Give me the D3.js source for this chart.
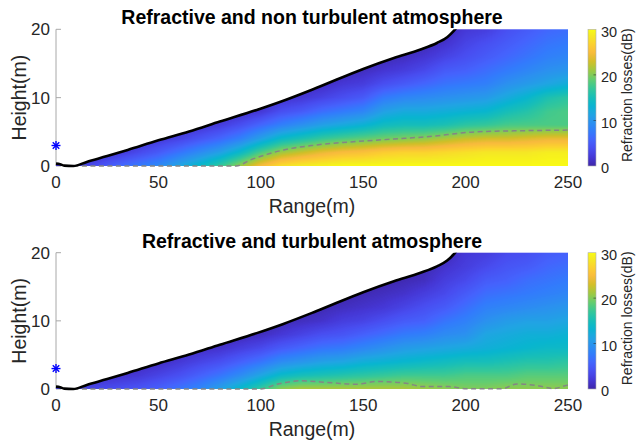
<!DOCTYPE html>
<html><head><meta charset="utf-8">
<script src="https://cdn.jsdelivr.net/npm/d3@7"></script>
<style>
body{margin:0;background:#fff;}
svg{display:block;font-family:"Liberation Sans",Arial,Helvetica,sans-serif;}
</style></head><body>
<svg id="chart" width="636" height="444"></svg>
<script>
// ---------------- data ----------------
const ranges  = [0,10,20,30,40,50,60,70,80,90,100,110,120,130,140,150,160,170,180,190,200,210,220,230,240,250];
const heights = [0,2,4,6,8,10,12,14,16,18,20];

// refraction losses (dB), one row per range, columns = heights
const lossNonTurbulent = [
  [2,0,0,0,0,0,0,0,0,0,0],
  [3,0,0,0,0,0,0,0,0,0,0],
  [4,1,0,0,0,0,0,0,0,0,0],
  [6,2,0,0,0,0,0,0,0,0,0],
  [7.5,3.5,1,0,0,0,0,0,0,0,0],
  [9,5,2,0,0,0,0,0,0,0,0],
  [11.5,7,3,1,0,0,0,0,0,0,0],
  [14,9,4.5,1.5,0,0,0,0,0,0,0],
  [17,11,6,2.5,0.5,0,0,0,0,0,0],
  [21,14,8,4,1,0,0,0,0,0,0],
  [25,18,11,6,2,0.5,0,0,0,0,0],
  [28,21,14,8,4,1.5,0,0,0,0,0],
  [29,22.5,15.5,9.5,5,2,0.5,0,0,0,0],
  [29.5,24,17,11,6.5,3,1,0,0,0,0],
  [30,25,18,12,7.5,4,2,0.5,0,0,0],
  [30,25.5,18.8,13,8.5,5,2.5,1,0,0,0],
  [30,26.5,19.5,14.5,11,7.5,4,1.8,0.5,0,0],
  [30,27,20,15,12,8.5,5,2.5,1,0,0],
  [30,27,20.5,15,12,9,6,3.5,1.8,0.5,0],
  [30,27.5,21.5,15.5,12.5,9.5,7,5,3,1.5,0.5],
  [30,28,22.5,16.5,13,10,7.5,5.5,4,3,2],
  [30,28.5,23,17,13.5,10.5,8,6.5,5,4,2.5],
  [30,28.5,23,17.8,15,12,9.5,7.5,6,5,4],
  [30,28.5,23.5,18,16,13.5,10.5,8.5,7,6,5],
  [30,29,24,18,17.5,15.5,11.5,9.5,8,7,6],
  [30,29,24,18,18,16.5,12.5,10,8.5,7.5,6.5]
];
const lossTurbulent = [
  [3,0,0,0,0,0,0,0,0,0,0],
  [3,0,0,0,0,0,0,0,0,0,0],
  [3.5,1,0,0,0,0,0,0,0,0,0],
  [4,1.5,0,0,0,0,0,0,0,0,0],
  [4.5,2,0.5,0,0,0,0,0,0,0,0],
  [5.5,3,1,0,0,0,0,0,0,0,0],
  [7,4,2,0.5,0,0,0,0,0,0,0],
  [8.5,5.5,3,1,0,0,0,0,0,0,0],
  [11,7,4,1.5,0,0,0,0,0,0,0],
  [14,9,5.5,2.5,0.5,0,0,0,0,0,0],
  [17,11.5,7,3.5,1,0,0,0,0,0,0],
  [20.5,14,9,5,2,0.5,0,0,0,0,0],
  [21.5,15,10,6,3,1,0,0,0,0,0],
  [21.5,15.5,11,7,4,1.5,0.5,0,0,0,0],
  [21.5,16,11.5,7.5,4.5,2.5,1,0,0,0,0],
  [21.5,16.5,12.5,8.5,5.5,3,1.5,0.5,0,0,0],
  [21.5,17,13,9.5,6.5,4,2,1,0,0,0],
  [21.5,17.5,13.5,10.5,7.5,5,3,1.5,0.5,0,0],
  [21,17.5,14,11,8,5.5,4,2.5,1,0.5,0],
  [20.5,17.5,14.5,11.5,9,7,5,3.5,2.5,1.5,0.5],
  [20,18,15,12,9.5,8,6.5,5,3.5,2.5,2],
  [20,18,15,12.5,11.5,9.5,8,6.5,5,3.5,2.5],
  [20.5,18,15.5,13,12,10.5,8.5,7,5.5,4.5,3.5],
  [20.5,18.5,16,13.5,12.5,11,9,7.5,6.5,5,4],
  [20.5,18.5,16,14,12.5,11,9.5,8,7,6,5],
  [20.5,18.5,16.5,14,13,11.5,10,8.5,7.5,6.5,5.5]
];

// shadow-zone boundary (black line)
const boundaryRange  = [0,2,4,8.5,15,25,35,50,65,80,98,111,127,150,165,178,186,191,194,196.5,198];
const boundaryHeight = [0.35,0.25,0.05,0,0.6,1.45,2.35,3.75,5.05,6.5,8.2,9.55,11.4,14.2,15.8,17.05,18.0,18.85,19.7,20.6,21.2];

// 20 dB contour (dashed)
const contourNonTurbRange  = [8.5,88,95,103,111,127,150,165,181,205,225,250];
const contourNonTurbHeight = [0,0,0.9,1.7,2.34,3.07,3.65,3.95,4.28,5.0,5.15,5.25];
const contourTurbRange  = [8.5,99.6,108,119,135,146.8,156.6,171,179,192,200.5,218,225,236,243,247.6,250];
const contourTurbHeight = [0,0,0.7,1.2,0.9,0.7,1.1,0.85,0.35,0.35,0.05,0.05,0.75,0.45,0.05,0.4,0.6];

const sourceRange = 0, sourceHeight = 3;
const xTicks = [0,50,100,150,200,250];
const yTicks = [0,10,20];
const cbTicks = [0,10,20,30];
const titles = ["Refractive and non turbulent atmosphere","Refractive and turbulent atmosphere"];
const xLabel = "Range(m)", yLabel = "Height(m)", cbLabel = "Refraction losses(dB)";

// parula colormap stops
const parulaPos = [0,4,8,12,16,20,24,28,32,36,40,44,48,52,56,60,63];
const parulaCol = ["#3e26a8","#4537d5","#484df0","#4563fd","#327cfc","#2b91ef","#20a5e3","#08b5d0",
                   "#19bfb6","#37c897","#64cd6f","#9dc943","#d1bf27","#f8ba3d","#fccf30","#f5e924","#f9fb15"];

// ---------------- drawing ----------------
const svg = d3.select("#chart");
const xLeft = 56, xRight = 568;
const panelsY = [[29.3,166],[252.7,389]];
const cbX = 588, cbW = 8;
const tickColor = "#262626";

const color = d3.scaleLinear()
  .domain(parulaPos.map(p => p/63*30))
  .range(parulaCol)
  .interpolate(d3.interpolateRgb)
  .clamp(true);
const lut = d3.range(301).map(i => d3.rgb(color(i/10)));

const defs = svg.append("defs");

function sample(grid, x, h) {
  let i = d3.bisectRight(ranges, x) - 1;
  i = Math.max(0, Math.min(ranges.length - 2, i));
  let j = d3.bisectRight(heights, h) - 1;
  j = Math.max(0, Math.min(heights.length - 2, j));
  let tx = (x - ranges[i]) / (ranges[i+1] - ranges[i]);
  let ty = (h - heights[j]) / (heights[j+1] - heights[j]);
  tx = Math.max(0, Math.min(1, tx)); ty = Math.max(0, Math.min(1, ty));
  return (1-tx)*(1-ty)*grid[i][j] + tx*(1-ty)*grid[i+1][j] + (1-tx)*ty*grid[i][j+1] + tx*ty*grid[i+1][j+1];
}

const grids = [lossNonTurbulent, lossTurbulent];
const contours = [[contourNonTurbRange, contourNonTurbHeight],[contourTurbRange, contourTurbHeight]];

panelsY.forEach(([yTop, yBot], k) => {
  const x = d3.scaleLinear().domain([0,250]).range([xLeft, xRight]);
  const y = d3.scaleLinear().domain([0,20]).range([yBot, yTop]);
  const g = svg.append("g");

  // y axis (drawn beneath data)
  g.append("line").attr("x1", x(0)).attr("x2", x(0)).attr("y1", y(0)).attr("y2", y(20))
    .attr("stroke", "#a8a8a8").attr("stroke-width", 1);
  yTicks.forEach(t => {
    g.append("line").attr("x1", x(0)).attr("x2", x(0)+5).attr("y1", y(t)).attr("y2", y(t))
      .attr("stroke", "#a8a8a8").attr("stroke-width", 1);
  });

  // heatmap image
  const pw = Math.round(x(250) - x(0)), ph = Math.round(y(0) - y(20));
  const canvas = document.createElement("canvas");
  canvas.width = pw; canvas.height = ph;
  const ctx = canvas.getContext("2d");
  const img = ctx.createImageData(pw, ph);
  for (let py = 0; py < ph; py++) {
    const h = y.invert(y(20) + (py + 0.5) * (y(0)-y(20)) / ph);
    for (let px = 0; px < pw; px++) {
      const r = x.invert(x(0) + (px + 0.5) * (x(250)-x(0)) / pw);
      const v = sample(grids[k], r, h);
      const c = lut[Math.max(0, Math.min(300, Math.round(v*10)))];
      const o = (py*pw + px)*4;
      img.data[o] = c.r; img.data[o+1] = c.g; img.data[o+2] = c.b; img.data[o+3] = 255;
    }
  }
  ctx.putImageData(img, 0, 0);

  const bData = boundaryRange.map((r, i) => [r, boundaryHeight[i]]);
  const clipData = bData.concat([[250, 21.2]]);
  const area = d3.area().x(d => x(d[0])).y0(y(0)).y1(d => y(d[1])).curve(d3.curveMonotoneX);
  const clipId = "clip" + k;
  defs.append("clipPath").attr("id", clipId).append("path").attr("d", area(clipData));
  const rectId = "rect" + k;
  defs.append("clipPath").attr("id", rectId).append("rect")
    .attr("x", x(0)-2).attr("y", y(20)).attr("width", x(250)-x(0)+4).attr("height", y(0)-y(20)+4);

  g.append("image")
    .attr("href", canvas.toDataURL())
    .attr("x", x(0)).attr("y", y(20)).attr("width", x(250)-x(0)).attr("height", y(0)-y(20))
    .attr("preserveAspectRatio", "none")
    .attr("clip-path", `url(#${clipId})`);

  // contour (dashed)
  const [cr, ch] = contours[k];
  const line = d3.line().x(d => x(d[0])).y(d => y(d[1])).curve(d3.curveMonotoneX);
  g.append("path").attr("d", line(cr.map((r, i) => [r, ch[i]])))
    .attr("fill", "none").attr("stroke", "#858585").attr("stroke-width", 1.5)
    .attr("stroke-dasharray", "5,3.5");

  // boundary line
  g.append("g").attr("clip-path", `url(#${rectId})`)
    .append("path").attr("d", line(bData))
    .attr("fill", "none").attr("stroke", "#000").attr("stroke-width", 2.6)
    .attr("stroke-linejoin", "round");

  // source marker (asterisk)
  const sx = x(sourceRange), sy = y(sourceHeight), s = 4.5, d = s*0.72;
  const star = g.append("g").attr("stroke", "#0000ff").attr("stroke-width", 1.4);
  [[0,-s,0,s],[-s,0,s,0],[-d,-d,d,d],[-d,d,d,-d]].forEach(p => {
    star.append("line").attr("x1", sx+p[0]).attr("y1", sy+p[1]).attr("x2", sx+p[2]).attr("y2", sy+p[3]);
  });

  // tick labels
  xTicks.forEach(t => {
    g.append("text").attr("x", x(t)).attr("y", y(0) + 22).attr("text-anchor", "middle")
      .attr("font-size", 17).attr("fill", tickColor).text(t);
  });
  yTicks.forEach(t => {
    g.append("text").attr("x", x(0) - 6).attr("y", y(t)).attr("dy", "0.36em").attr("text-anchor", "end")
      .attr("font-size", 17).attr("fill", tickColor).text(t);
  });
  // axis labels
  g.append("text").attr("x", (x(0)+x(250))/2).attr("y", y(0) + 46.5).attr("text-anchor", "middle")
    .attr("font-size", 19.5).attr("fill", tickColor).text(xLabel);
  g.append("text").attr("transform", `translate(25.5,${(y(0)+y(20))/2}) rotate(-90)`)
    .attr("text-anchor", "middle").attr("font-size", 19.5).attr("fill", tickColor).text(yLabel);
  // title
  g.append("text").attr("x", (x(0)+x(250))/2).attr("y", y(20) - 5).attr("text-anchor", "middle")
    .attr("font-size", 19.5).attr("font-weight", "bold").attr("fill", "#000").text(titles[k]);

  // colorbar
  const cb = d3.scaleLinear().domain([0,30]).range([yBot, yTop]);
  const gradId = "grad" + k;
  const grad = defs.append("linearGradient").attr("id", gradId)
    .attr("x1", 0).attr("y1", 1).attr("x2", 0).attr("y2", 0);
  d3.range(0, 30.01, 1).forEach(v => {
    grad.append("stop").attr("offset", v/30).attr("stop-color", color(v));
  });
  g.append("rect").attr("x", cbX).attr("y", cb(30)).attr("width", cbW).attr("height", cb(0)-cb(30))
    .attr("fill", `url(#${gradId})`).attr("stroke", "#b0b0b0").attr("stroke-width", 0.6);
  cbTicks.forEach(t => {
    if (t > 0 && t < 30) {
      g.append("line").attr("x1", cbX+cbW-2.5).attr("x2", cbX+cbW).attr("y1", cb(t)).attr("y2", cb(t))
        .attr("stroke", tickColor).attr("stroke-width", 0.8).attr("opacity", 0.7);
    }
    g.append("text").attr("x", cbX + 13).attr("y", cb(t) + 2).attr("dy", "0.36em")
      .attr("font-size", 14.5).attr("fill", tickColor).text(t);
  });
  g.append("text").attr("transform", `translate(632,${(yTop+yBot)/2 - 2.5}) rotate(-90)`)
    .attr("text-anchor", "middle").attr("font-size", 14).attr("fill", tickColor).text(cbLabel);
});
</script>
</body></html>
